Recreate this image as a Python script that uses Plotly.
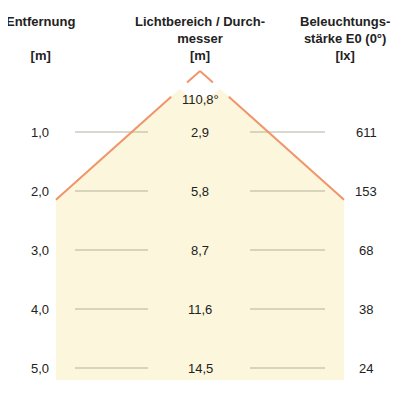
import plotly.graph_objects as go

# data
distances = [1.0, 2.0, 3.0, 4.0, 5.0]
diameters = ["2,9", "5,8", "8,7", "11,6", "14,5"]
illuminance = ["611", "153", "68", "38", "24"]
beam_angle = "110,8°"

# pixel layout constants
APEX_X, APEX_Y = 200, 71
ROW_PX = 59        # px per metre (vertical)
HALF_PX = 67       # px half-width per metre
CLIP_D = 2.15      # cone becomes vertical here
BOTTOM = 380
OFF = 8            # page body margin

def y_of(d):
    return 73 + ROW_PX * d

fig = go.Figure()

edge_y = y_of(CLIP_D)
hw = HALF_PX * CLIP_D
# cone fill
fig.add_trace(go.Scatter(
    x=[APEX_X, APEX_X - hw, APEX_X - hw, APEX_X + hw, APEX_X + hw, APEX_X],
    y=[APEX_Y, edge_y, BOTTOM, BOTTOM, edge_y, APEX_Y],
    fill="toself", fillcolor="#fbf6dc", line=dict(width=0),
    mode="lines", hoverinfo="skip", showlegend=False))
# white disc around angle label
R = 27
fig.add_shape(type="circle", x0=APEX_X - R, x1=APEX_X + R, y0=APEX_Y - R, y1=APEX_Y + R,
              fillcolor="white", line=dict(width=0), layer="above")

orange = "#f0946a"
for s in (-1, 1):
    dx, dy = s * hw, edge_y - APEX_Y
    for f0, f1 in ((0, 0.09), (0.2, 1)):
        fig.add_shape(type="line", x0=APEX_X + dx * f0, y0=APEX_Y + dy * f0,
                      x1=APEX_X + dx * f1, y1=APEX_Y + dy * f1,
                      line=dict(color=orange, width=2), layer="above")

for d, dia, lx in zip(distances, diameters, illuminance):
    y = y_of(d)
    for x0, x1 in ((75, 148), (250, 325)):
        fig.add_trace(go.Scatter(x=[x0, x1], y=[y, y], mode="lines",
                                 line=dict(color="#b5b29c", width=1),
                                 hoverinfo="skip", showlegend=False))
    fig.add_annotation(x=40, y=y, text=f"{d:.1f}".replace(".", ","), showarrow=False)
    fig.add_annotation(x=200, y=y, text=dia, showarrow=False)
    fig.add_annotation(x=366, y=y, text=lx, showarrow=False)

fig.add_annotation(x=200, y=99, text=beam_angle, showarrow=False)

hdr = dict(showarrow=False, yanchor="top", font=dict(size=13, color="#222"))
fig.add_annotation(x=40, y=12, text="<b>Entfernung</b><br> <br><b>[m]</b>", **hdr)
fig.add_annotation(x=200, y=12, text="<b>Lichtbereich / Durch-</b><br><b>messer</b><br><b>[m]</b>", **hdr)
fig.add_annotation(x=345, y=12, text="<b>Beleuchtungs-</b><br><b>stärke E0 (0°)</b><br><b>[lx]</b>", **hdr)

fig.update_layout(
    width=400, height=400, margin=dict(l=0, r=0, t=0, b=0),
    paper_bgcolor="white", plot_bgcolor="white",
    font=dict(family="Liberation Sans, Arial", size=13, color="#222"),
    xaxis=dict(range=[OFF, 400 + OFF], visible=False, fixedrange=True),
    yaxis=dict(range=[400 + OFF, OFF], visible=False, fixedrange=True),
)
fig.write_html("out.html")
